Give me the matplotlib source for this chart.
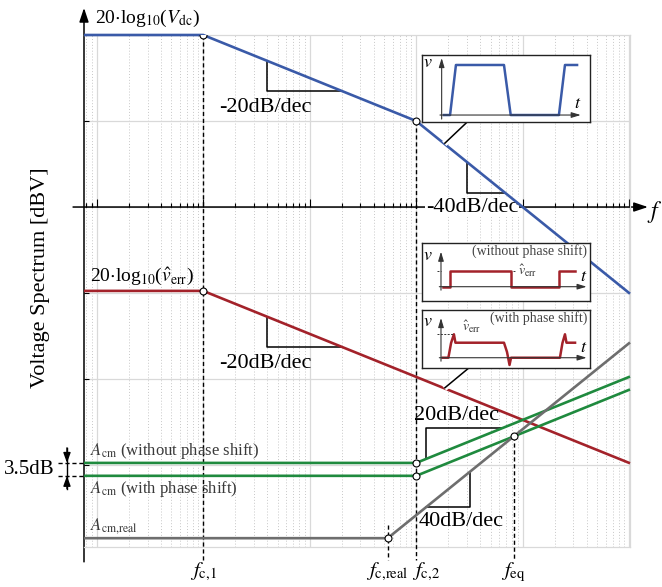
import matplotlib
matplotlib.use("Agg")
import matplotlib.pyplot as plt
import matplotlib.patheffects as pe
import numpy as np

plt.rcParams["font.family"] = "serif"
plt.rcParams["font.serif"] = ["Liberation Serif", "DejaVu Serif"]
plt.rcParams["mathtext.fontset"] = "stix"

# frequency range and corner frequencies (schematic)
f_lo, f_hi = 0.76, 1.018e5
f_c1 = 10.0
f_c2 = 1000.0
f_creal = 540.0

# asymptote levels [dBV], corners, slopes [dB/dec] (before / after each corner)
vdc_level, vdc_corners, vdc_slopes = 80.0, [f_c1, f_c2], [0, -20, -40]
err_level, err_corners, err_slopes = -39.0, [f_c1], [0, -20]
cmns_level, cmns_corners, cmns_slopes = -119.0, [f_c2], [0, 20]
cmps_level, cmps_corners, cmps_slopes = -125.0, [f_c2], [0, 20]
cmr_level, cmr_corners, cmr_slopes = -154.0, [f_creal], [0, 40]

# slope triangles: (curve, anchor freq, vertical leg dB)
tri_specs = [
    ("vdc", 10**1.60, -14.0),
    ("err", 10**1.60, -14.0),
    ("vdc", 10**3.477, -14.4),
    ("cmns", 10**3.089, 14.4),
    ("cmr", 10**3.505, -16.5),
]

# inset waveforms (inset-axes fractions)
w1_t = [0.131, 0.167, 0.202, 0.488, 0.528, 0.815, 0.851, 0.923]
w1_v = [0.104, 0.104, 0.851, 0.851, 0.104, 0.104, 0.851, 0.851]
w2_t = [0.127, 0.167, 0.167, 0.528, 0.528, 0.817, 0.817, 0.911]
w2_v = [0.244, 0.244, 0.517, 0.517, 0.244, 0.244, 0.517, 0.517]
w3_t = [0.123, 0.157, 0.173, 0.190, 0.199, 0.488, 0.506, 0.521, 0.530,
        0.821, 0.836, 0.851, 0.860, 0.911]
w3_v = [0.173, 0.173, 0.428, 0.579, 0.433, 0.433, 0.272, 0.047, 0.173,
        0.173, 0.428, 0.579, 0.433, 0.433]

BLUE = "#3a5aa8"
RED = "#a3222a"
GREEN = "#1f8a3e"
GRAY = "#6e6e6e"
GRID = "#d9d9d9"


def asym(f, level, corners, slopes):
    f = np.atleast_1d(np.asarray(f, float))
    y = np.full_like(f, level)
    for i, fc in enumerate(corners):
        y += (slopes[i + 1] - slopes[i]) * np.log10(np.maximum(f, fc) / fc)
    return y


curves = {
    "vdc": (vdc_level, vdc_corners, vdc_slopes, BLUE),
    "err": (err_level, err_corners, err_slopes, RED),
    "cmns": (cmns_level, cmns_corners, cmns_slopes, GREEN),
    "cmps": (cmps_level, cmps_corners, cmps_slopes, GREEN),
    "cmr": (cmr_level, cmr_corners, cmr_slopes, GRAY),
}


def yof(name, f):
    lv, cs, sl, _ = curves[name]
    return asym(f, lv, cs, sl)[0]


def slope_at(name, f):
    lv, cs, sl, _ = curves[name]
    k = sum(1 for c in cs if f > c)
    return sl[k]


W, H = 662, 587
fig = plt.figure(figsize=(W / 100, H / 100), dpi=100)


def px_rect(x0, y0, x1, y1):
    return [x0 / W, 1 - y1 / H, (x1 - x0) / W, (y1 - y0) / H]


ax = fig.add_axes(px_rect(84, 35, 630, 547))
ax.set_xscale("log")
ax.set_xlim(f_lo, f_hi)
ax.set_ylim(-158.1, 80.0)

# grid
decades = [1, 10, 100, 1e3, 1e4, 1e5]
minors = [m * d for d in [0.1, 1, 10, 100, 1e3, 1e4] for m in range(2, 10)]
minors = [m for m in minors if f_lo <= m <= f_hi]
ax.set_xticks(decades)
ax.set_xticks(minors, minor=True)
ax.set_yticks([40, 0, -40, -80, -120])
ax.tick_params(which="both", length=0, labelbottom=False, labelleft=False)
ax.grid(which="major", color=GRID, lw=0.9, ls="-")
ax.grid(which="minor", axis="x", color="#c8c8c8", lw=0.7, ls=(0, (1, 2)))
ax.set_axisbelow(True)
for s in ["top", "right", "bottom"]:
    ax.spines[s].set_color(GRID)
    ax.spines[s].set_linewidth(0.9)
ax.spines["left"].set_visible(False)

# axes arrows
arw = dict(arrowstyle="-|>,head_length=0.6,head_width=0.2", color="black",
           lw=1.1, mutation_scale=14, shrinkA=0, shrinkB=0)
ax.annotate("", xy=(f_lo, 92.6), xytext=(f_lo, -165.0), arrowprops=arw,
            annotation_clip=False, zorder=2)
ax.annotate("", xy=(1.5e5, 0), xytext=(0.6, 0), arrowprops=arw,
            annotation_clip=False, zorder=2)
ax.text(1.72e5, -2.3, r"$f$", fontsize=17, ha="center", va="center")

# axis ticks
xt_major = [f for f in decades if f_lo <= f <= f_hi]
xt_minor = [0.8, 0.9] + minors
ax.vlines(xt_minor, 0, 2.1, color="black", lw=0.8, zorder=2)
ax.vlines(xt_major, 0, 3.7, color="black", lw=0.8, zorder=2)
ax.hlines([40, -40, -80, -120], f_lo, f_lo * 1.12, color="black", lw=0.8, zorder=2)

# asymptotes
for name, (lv, cs, sl, col) in curves.items():
    fp = [f_lo] + list(cs) + [f_hi]
    ax.plot(fp, asym(fp, lv, cs, sl), color=col, lw=1.9, zorder=3,
            solid_capstyle="butt", clip_on=False)

# f_eq: intersection of A_cm,real and A_cm (with phase shift)
lfe = (cmps_level - cmps_slopes[-1] * np.log10(f_c2)
       - cmr_level + cmr_slopes[-1] * np.log10(f_creal)) / (cmr_slopes[-1] - cmps_slopes[-1])
f_eq = 10 ** lfe

# dashed frequency markers
y_bot = -164.2
dash = dict(color="black", lw=1.0, ls=(0, (3, 2)), zorder=2.6, clip_on=False)
ax.plot([f_c1, f_c1], [yof("vdc", f_c1), y_bot], **dash)
ax.plot([f_c2, f_c2], [yof("vdc", f_c2), y_bot], **dash)
ax.plot([f_creal, f_creal], [cmr_level + 6, y_bot], **dash)
ax.plot([f_eq, f_eq], [yof("cmps", f_eq), y_bot], **dash)

# breakpoint circles
pts = [(f_c1, yof("vdc", f_c1)), (f_c2, yof("vdc", f_c2)), (f_c1, yof("err", f_c1)),
       (f_c2, cmns_level), (f_c2, cmps_level), (f_creal, cmr_level),
       (f_eq, yof("cmps", f_eq))]
for fx, fy in pts:
    ax.plot(fx, fy, "o", ms=5, mfc="white", mec="black", mew=0.8, zorder=5)

# slope triangles
for name, fa, dy in tri_specs:
    y0 = yof(name, fa)
    s = slope_at(name, fa * 1.0001)
    fb = fa * 10 ** (dy / s)
    ax.plot([fa, fa, fb], [y0, y0 + dy, y0 + dy], color="black", lw=1.1, zorder=2.8)

# labels
fs_slope = 16
ax.text(10**1.585, 46.5, "-20dB/dec", fontsize=fs_slope, ha="center", va="center")
ax.text(10**1.585, -72.6, "-20dB/dec", fontsize=fs_slope, ha="center", va="center")
ax.text(10**3.524, 0, "-40dB/dec", fontsize=fs_slope, ha="center", va="center",
        zorder=2.7, bbox=dict(facecolor="white", edgecolor="none", pad=0.3))
ax.text(10**3.374, -97.1, "20dB/dec", fontsize=fs_slope, ha="center", va="center")
ax.text(10**3.421, -146.4, "40dB/dec", fontsize=fs_slope, ha="center", va="center")

ax.text(0.964, 85.6, r"20$\cdot$log$_{10}$($V_{\mathrm{dc}}$)", fontsize=14,
        ha="left", va="baseline", clip_on=False)
ax.text(0.865, -34.9, r"20$\cdot$log$_{10}$($\hat{v}_{\mathrm{err}}$)", fontsize=14,
        ha="left", va="baseline")

tc = "#3a3a3a"
ax.text(0.865, -115.3, r"$A_{\mathrm{cm}}$ (without phase shift)", fontsize=12,
        color=tc, ha="left", va="baseline")
ax.text(0.865, -133.0, r"$A_{\mathrm{cm}}$ (with phase shift)", fontsize=12,
        color=tc, ha="left", va="baseline")
ax.text(0.865, -150.2, r"$A_{\mathrm{cm{,}real}}$", fontsize=12,
        color=tc, ha="left", va="baseline")

# 3.5 dB bracket
ax.plot([0.434, f_lo], [cmns_level] * 2, **dash)
ax.plot([0.434, f_lo], [cmps_level] * 2, **dash)
x_br = 0.526
ax.plot([x_br, x_br], [cmns_level + 7, cmps_level - 6], color="black", lw=1.0,
        clip_on=False)
small = dict(arrowstyle="-|>,head_length=0.5,head_width=0.18", color="black",
             lw=1.0, mutation_scale=12, shrinkA=0, shrinkB=0)
ax.annotate("", xy=(x_br, cmns_level), xytext=(x_br, cmns_level + 7),
            arrowprops=small, annotation_clip=False)
ax.annotate("", xy=(x_br, cmps_level), xytext=(x_br, cmps_level - 6),
            arrowprops=small, annotation_clip=False)
ax.text(0.405, (cmns_level + cmps_level) / 2, "3.5dB", fontsize=15, ha="right",
        va="center")

# frequency labels
y_fl = -169.8
ax.text(f_c1, y_fl, r"$f_{\mathrm{c{,}1}}$", fontsize=15, ha="center", va="center")
ax.text(f_creal, y_fl, r"$f_{\mathrm{c{,}real}}$", fontsize=15, ha="center", va="center")
ax.text(f_c2 * 10**-0.04, y_fl, r"$f_{\mathrm{c{,}2}}$", fontsize=15, ha="left", va="center")
ax.text(f_eq, y_fl, r"$f_{\mathrm{eq}}$", fontsize=15, ha="center", va="center")

ax.text(0.294, -33, "Voltage Spectrum [dBV]", fontsize=16, rotation=90,
        ha="center", va="center")

# pointer lines from insets
halo = [pe.Stroke(linewidth=4.5, foreground="white"), pe.Normal()]
f_p = 10**3.264
ax.plot([10**3.489, f_p], [40, yof("vdc", f_p)], color="black", lw=1.1,
        zorder=4, path_effects=halo, solid_capstyle="butt")
ax.plot([10**3.498, f_p], [-74.7, yof("err", f_p)], color="black", lw=1.1,
        zorder=4, path_effects=halo, solid_capstyle="butt")


# insets
def make_inset(rect, org, vtop, tend, title=None):
    ia = fig.add_axes(rect)
    ia.set_xlim(0, 1)
    ia.set_ylim(0, 1)
    ia.set_xticks([])
    ia.set_yticks([])
    for s in ia.spines.values():
        s.set_linewidth(1.0)
        s.set_color("#222222")
    ia_arw = dict(arrowstyle="-|>,head_length=0.5,head_width=0.15", color="#333333",
                  lw=0.8, mutation_scale=11, shrinkA=0, shrinkB=0)
    ia.annotate("", xy=(org[0], vtop), xytext=(org[0], org[1] - 0.06), arrowprops=ia_arw)
    ia.annotate("", xy=(tend, org[1]), xytext=(org[0] - 0.01, org[1]), arrowprops=ia_arw)
    ia.text(0.035, vtop - 0.06, r"$v$", fontsize=13, ha="center", va="center")
    ia.text(tend - 0.02, org[1] + 0.17, r"$t$", fontsize=13, ha="center", va="center")
    if title:
        ia.text(0.982, 0.86, title, fontsize=10, color="#444444", ha="right", va="center")
    return ia


ia1 = make_inset(px_rect(422, 55, 590, 122), (0.117, 0.104), 0.955, 0.945)
ia1.plot(w1_t, w1_v, color=BLUE, lw=1.8)

ia2 = make_inset(px_rect(422, 243.3, 590, 300.7), (0.113, 0.244), 0.854, 0.98,
                 "(without phase shift)")
ia2.plot(w2_t, w2_v, color=RED, lw=1.8)
ia2.plot([0.087, 0.113], [max(w2_v)] * 2, color="#333333", lw=0.7, ls=(0, (2, 1.5)))
ia2.plot([0.54, 0.56], [max(w2_v)] * 2, color="#333333", lw=0.7, ls=(0, (2, 1.5)))
ia2.text(0.57, max(w2_v), r"$\hat{v}_{\mathrm{err}}$", fontsize=10, color="#333333",
         ha="left", va="center")

ia3 = make_inset(px_rect(422, 310, 590, 367.7), (0.113, 0.173), 0.861, 0.98,
                 "(with phase shift)")
ia3.plot(w3_t, w3_v, color=RED, lw=1.8)
ia3.plot([0.087, 0.19], [max(w3_v)] * 2, color="#333333", lw=0.7, ls=(0, (2, 1.5)))
ia3.text(0.24, 0.70, r"$\hat{v}_{\mathrm{err}}$", fontsize=10, color="#333333",
         ha="left", va="center")

fig.savefig("out.png", dpi=100)
